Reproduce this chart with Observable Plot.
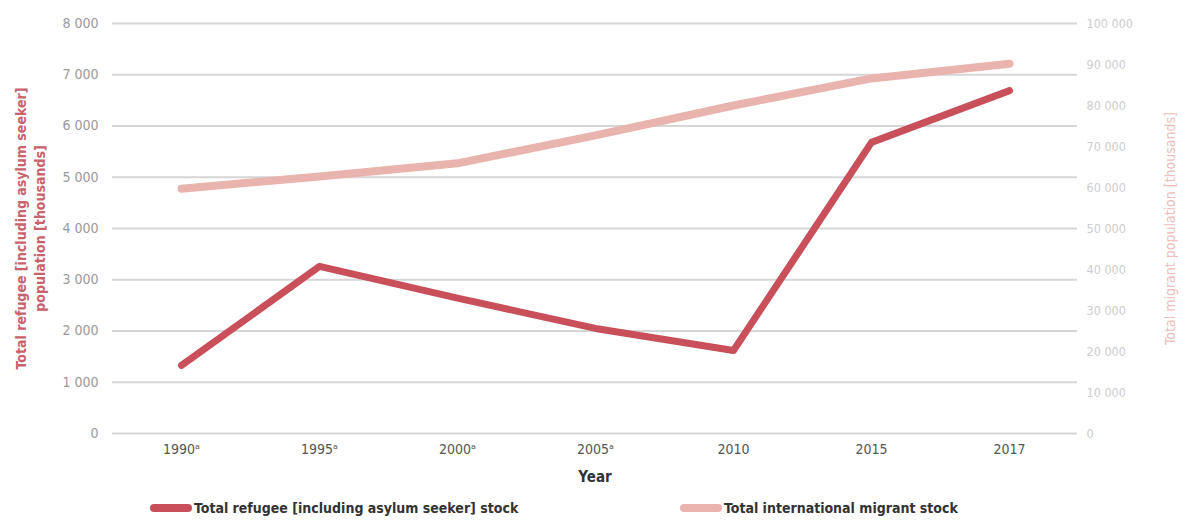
<!DOCTYPE html>
<html>
<head>
<meta charset="utf-8">
<script src="https://cdn.jsdelivr.net/npm/d3@7"></script>
<script src="https://cdn.jsdelivr.net/npm/@observablehq/plot@0.6"></script>
<style>
  body { margin: 0; background: #fff; }
  #chart { position: relative; width: 1185px; }
  .legend { position: relative; height: 25px; font-family: "Liberation Sans Narrow", "DejaVu Sans Condensed", Roboto, sans-serif; font-weight: bold; font-size: 14px; color: #333; }
  .legend .item { position: absolute; top: 0; display: flex; align-items: center; height: 25px; }
  .legend .sw { width: 42px; height: 8px; border-radius: 4px; margin-right: 2px; }
</style>
</head>
<body>
<div id="chart"></div>
<script>
// Years on the x axis (superscript a = estimate footnote)
const years = ["1990ᵃ", "1995ᵃ", "2000ᵃ", "2005ᵃ", "2010", "2015", "2017"];
// Total refugee (including asylum seeker) stock, thousands (left axis)
const refugees = [1330, 3260, 2640, 2050, 1620, 5680, 6690];
// Total international migrant stock, thousands (right axis)
const migrants = [59700, 62700, 65900, 72700, 80000, 86600, 90200];
// Axis ticks
const leftTicks = [0, 1000, 2000, 3000, 4000, 5000, 6000, 7000, 8000];
const rightTicks = [0, 10000, 20000, 30000, 40000, 50000, 60000, 70000, 80000, 90000, 100000];

const refugeeColor = "#c9505a";
const migrantColor = "#e9b4ae";
const ratio = 8000 / 100000; // right axis -> left axis

const fmt = d3.formatLocale({thousands: "\u00a0", grouping: [3], decimal: "."}).format(",");
const font = '"Liberation Sans Narrow", "DejaVu Sans Condensed", Roboto, sans-serif';

const refRows = years.map((y, i) => ({year: y, value: refugees[i]}));
const migRows = years.map((y, i) => ({year: y, value: migrants[i] * ratio}));

const plot = Plot.plot({
  width: 1185,
  height: 495,
  marginLeft: 112,
  marginRight: 108,
  marginTop: 23,
  marginBottom: 62,
  style: {fontFamily: font, fontSize: "14px", background: "#fff"},
  x: {type: "point", domain: years, padding: 0.48, label: null},
  y: {domain: [0, 8000], label: null},
  marks: [
    Plot.gridY(leftTicks, {stroke: "#d6d6d6", strokeOpacity: 1, strokeWidth: 2}),
    Plot.axisY(leftTicks, {anchor: "left", tickSize: 0, tickPadding: 14, tickFormat: fmt, fill: "#9a9a9a", label: null}),
    Plot.axisY(rightTicks.map(d => d * ratio), {anchor: "right", tickSize: 0, tickPadding: 9, tickFormat: d => fmt(Math.round(d / ratio)), fill: "#cdcdcd", fontSize: 12.5, label: null}),
    Plot.axisX({tickSize: 0, tickPadding: 11, fill: "#555", label: null}),
    Plot.line(migRows, {x: "year", y: "value", stroke: migrantColor, strokeWidth: 8, strokeLinecap: "round", strokeLinejoin: "round"}),
    Plot.line(refRows, {x: "year", y: "value", stroke: refugeeColor, strokeWidth: 7, strokeLinecap: "round", strokeLinejoin: "round"}),
    Plot.text(["Year"], {frameAnchor: "bottom", dy: 48, fontWeight: "bold", fontSize: 15, fill: "#333"}),
    Plot.text(["Total refugee [including asylum seeker]\npopulation [thousands]"], {frameAnchor: "left", textAnchor: "middle", dx: -83, dy: 0, rotate: -90, fontWeight: "bold", fontSize: 14, fill: "#c8626b", lineHeight: 1.35}),
    Plot.text(["Total migrant population [thousands]"], {frameAnchor: "right", textAnchor: "middle", dx: 93, rotate: -90, fontSize: 14, fill: "#ecbdb8"})
  ]
});

const chart = document.getElementById("chart");
chart.appendChild(plot);

// Legend below the plot
const legend = document.createElement("div");
legend.className = "legend";
[[150, refugeeColor, "Total refugee [including asylum seeker] stock"],
 [680, migrantColor, "Total international migrant stock"]].forEach(([left, color, label]) => {
  const item = document.createElement("div");
  item.className = "item";
  item.style.left = left + "px";
  const sw = document.createElement("span");
  sw.className = "sw";
  sw.style.background = color;
  const tx = document.createElement("span");
  tx.textContent = label;
  item.append(sw, tx);
  legend.appendChild(item);
});
chart.appendChild(legend);
</script>
</body>
</html>
